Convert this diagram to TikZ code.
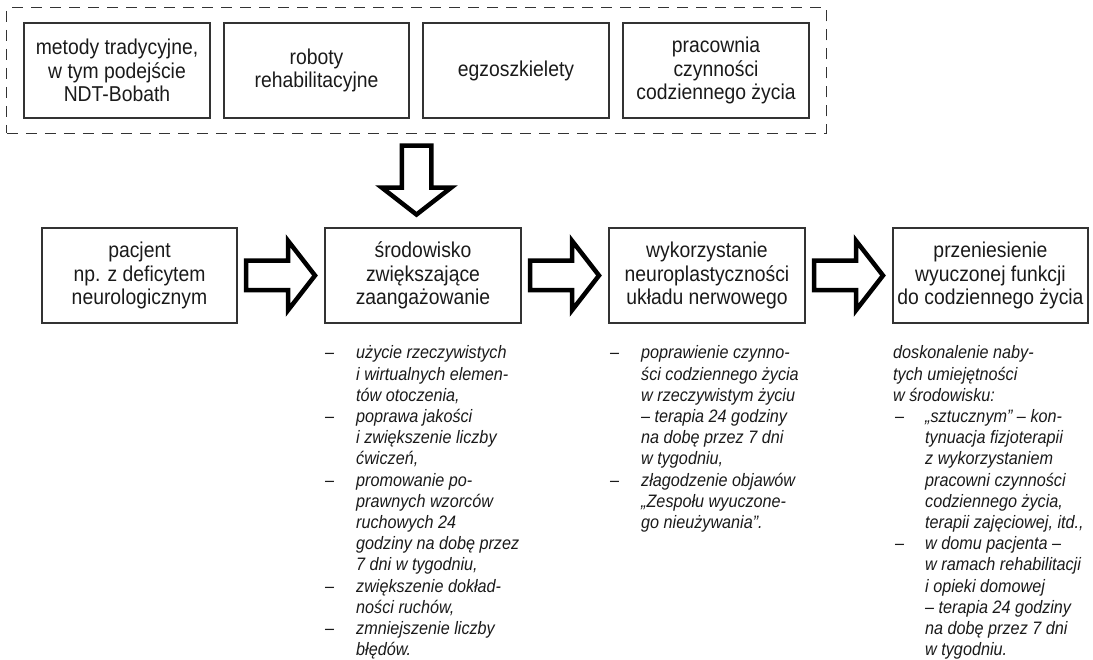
\documentclass[tikz,border=0pt]{standalone}
\usepackage{fontspec}
\setmainfont{Liberation Sans}[FakeStretch=0.9]
\usetikzlibrary{calc,fit}
\definecolor{ink}{HTML}{1A1A1A}
\definecolor{edge}{HTML}{333333}
\tikzset{
  box/.style={draw=edge, line width=1.3pt, inner sep=0pt, align=center, text=ink,
    minimum height=95pt, font=\fontsize{21.5}{23.5}\selectfont},
  dashbox/.style={draw=edge, line width=1.2pt, dash pattern=on 11pt off 8pt, inner xsep=16.5pt, inner ysep=14.5pt},
  listtext/.style={inner sep=0pt, anchor=base west, text=ink, font=\itshape\fontsize{18}{21.2}\selectfont},
  arrowline/.style={draw=black, line width=4.5pt, line join=miter, miter limit=12},
  blockarrow/.pic={\draw[arrowline] (-35,-14.75) -- (7,-14.75) -- (7,-34.75) -- (34,0) -- (7,34.75) -- (7,14.75) -- (-35,14.75) -- cycle;}
}
\begin{document}
\begin{tikzpicture}[x=1pt,y=-1pt]
\useasboundingbox (0,0) rectangle (1093,660);
% top row
\node[box, minimum width=186pt] (t1) at (117,70.5) {metody tradycyjne,\\w tym podejście\\NDT-Bobath};
\node[box, minimum width=185pt] (t2) at (316.5,70.5) {roboty\\rehabilitacyjne};
\node[box, minimum width=186pt] (t3) at (516,70.5) {egzoszkielety};
\node[box, minimum width=186pt] (t4) at (716,70.5) {pracownia\\czynności\\codziennego życia};
\node[dashbox, fit=(t1)(t4)] (grp) {};
% main row
\node[box, minimum width=195pt] (A) at (139.5,275.5) {pacjent\\np. z deficytem\\neurologicznym};
\node[box, minimum width=196pt] (B) at (423,275.5) {środowisko\\zwiększające\\zaangażowanie};
\node[box, minimum width=196pt] (C) at (707,275.5) {wykorzystanie\\neuroplastyczności\\układu nerwowego};
\node[box, minimum width=195pt] (D) at (990.5,275.5) {przeniesienie\\wyuczonej funkcji\\do codziennego życia};
% block arrows
\pic[rotate=-90] at ($(grp.south)!0.5!(grp.south|-B.north)$) {blockarrow};
\pic at ($(A.east)!0.5!(B.west)$) {blockarrow};
\pic at ($(B.east)!0.5!(C.west)$) {blockarrow};
\pic at ($(C.east)!0.5!(D.west)$) {blockarrow};
% lists
\node[listtext] (lb) at (325,359) {\begin{tabular}[t]{@{}p{31pt}@{}l@{}}
–& użycie rzeczywistych\\
 & i wirtualnych elemen-\\
 & tów otoczenia,\\
–& poprawa jakości\\
 & i zwiększenie liczby\\
 & ćwiczeń,\\
–& promowanie po-\\
 & prawnych wzorców\\
 & ruchowych 24\\
 & godziny na dobę przez\\
 & 7 dni w tygodniu,\\
–& zwiększenie dokład-\\
 & ności ruchów,\\
–& zmniejszenie liczby\\
 & błędów.
\end{tabular}};
\node[listtext] (lc) at (610,359) {\begin{tabular}[t]{@{}p{31pt}@{}l@{}}
–& poprawienie czynno-\\
 & ści codziennego życia\\
 & w rzeczywistym życiu\\
 & – terapia 24 godziny\\
 & na dobę przez 7 dni\\
 & w tygodniu,\\
–& złagodzenie objawów\\
 & „Zespołu wyuczone-\\
 & go nieużywania”.
\end{tabular}};
\node[listtext] (ld) at (893,359) {\begin{tabular}[t]{@{}p{32pt}@{}l@{}}
\multicolumn{2}{@{}l@{}}{doskonalenie naby-}\\
\multicolumn{2}{@{}l@{}}{tych umiejętności}\\
\multicolumn{2}{@{}l@{}}{w środowisku:}\\
\hspace*{2pt}–& „sztucznym” – kon-\\
 & tynuacja fizjoterapii\\
 & z wykorzystaniem\\
 & pracowni czynności\\
 & codziennego życia,\\
 & terapii zajęciowej, itd.,\\
\hspace*{2pt}–& w domu pacjenta –\\
 & w ramach rehabilitacji\\
 & i opieki domowej\\
 & – terapia 24 godziny\\
 & na dobę przez 7 dni\\
 & w tygodniu.
\end{tabular}};
\end{tikzpicture}
\end{document}
